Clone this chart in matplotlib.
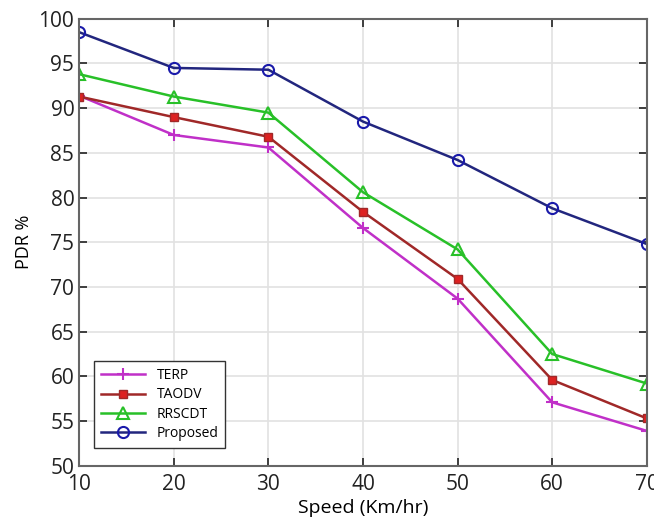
import matplotlib
matplotlib.use("Agg")
import matplotlib.pyplot as plt

plt.rcParams['font.family'] = ['Open Sans', 'DejaVu Sans']

speed = [10, 20, 30, 40, 50, 60, 70]
terp = [91.4, 87.0, 85.6, 76.6, 68.7, 57.1, 53.9]
taodv = [91.3, 89.0, 86.8, 78.4, 70.9, 59.6, 55.3]
rrscdt = [93.8, 91.3, 89.5, 80.6, 74.2, 62.5, 59.2]
proposed = [98.5, 94.5, 94.3, 88.5, 84.2, 78.8, 74.8]
xticks = [10, 20, 30, 40, 50, 60, 70]
yticks = [50, 55, 60, 65, 70, 75, 80, 85, 90, 95, 100]

fig = plt.figure(figsize=(6.54, 5.21), dpi=100)
ax = fig.add_axes([0.121, 0.106, 0.868, 0.858])

ax.plot(speed, terp, color='#c030c8', marker='+', markersize=8, markeredgewidth=1.5, lw=1.8, label='TERP')
ax.plot(speed, taodv, color='#a02828', marker='s', markersize=6, markerfacecolor='#dd2222', markeredgecolor='#a02828', lw=1.8, label='TAODV')
ax.plot(speed, rrscdt, color='#28c028', marker='^', markersize=9, markerfacecolor='none', markeredgewidth=1.5, lw=1.8, label='RRSCDT')
ax.plot(speed, proposed, color='#22267e', marker='o', markersize=8, markerfacecolor='none', markeredgecolor='#1a1aaa', markeredgewidth=1.5, lw=1.8, label='Proposed')

ax.set_xlim(10, 70)
ax.set_ylim(50, 100)
ax.set_xticks(xticks)
ax.set_yticks(yticks)
ax.tick_params(direction='in', top=True, right=True, labelsize=15, length=6, width=1.2, colors='#222222')
ax.tick_params(axis='x', pad=6)
ax.grid(True, color='#e2e2e2', lw=1.2)
for s in ax.spines.values():
    s.set_color('#666666')
    s.set_linewidth(1.5)
ax.set_xlabel('Speed (Km/hr)', fontsize=14, labelpad=3)
ax.set_ylabel('PDR %', fontsize=13, labelpad=4)

leg = ax.legend(loc='lower left', bbox_to_anchor=(0.014, 0.025), fontsize=10, fancybox=False,
                edgecolor='#333333', framealpha=1, handlelength=3.2, borderpad=0.5, labelspacing=0.3)
leg.get_frame().set_linewidth(1)

fig.savefig('out.png', dpi=100)
